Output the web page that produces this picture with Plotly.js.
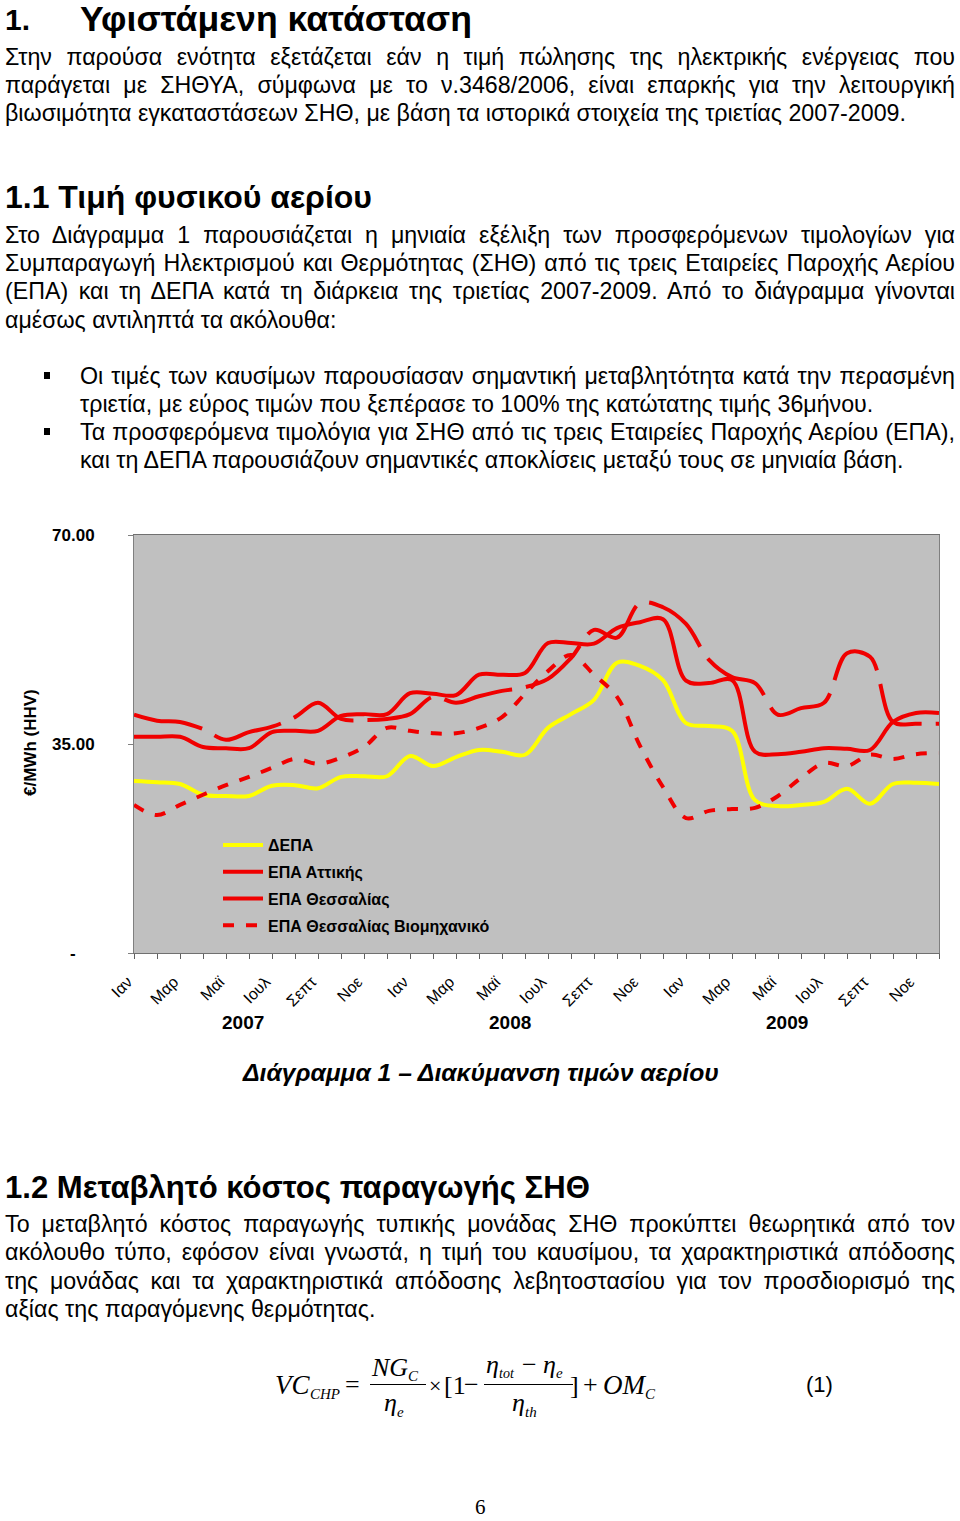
<!DOCTYPE html>
<html>
<head>
<meta charset="utf-8">
<script src="https://cdn.plot.ly/plotly-3.0.1.min.js"></script>
<style>
  html, body { margin:0; padding:0; background:#fff; }
  #page { position:relative; width:960px; height:1521px; overflow:hidden; background:#fff; color:#000; }
  .ln { position:absolute; left:5px; white-space:nowrap; font-family:"Liberation Sans", Arial, sans-serif; font-size:20px; line-height:28px; }
  .hd { position:absolute; white-space:nowrap; font-family:"Liberation Sans", Arial, sans-serif; font-weight:bold; line-height:1; }
  .bul { position:absolute; left:44px; width:6px; height:7px; background:#000; }
  .fm { position:absolute; white-space:nowrap; font-family:"Liberation Serif", "Times New Roman", serif; line-height:1; }
  .it { font-style:italic; }
  .bar { position:absolute; height:1px; background:#000; }
  #chart { position:absolute; left:0; top:505px; width:960px; height:545px; }
</style>
</head>
<body>
<div id="page">
  <div class="hd" style="left:5px; font-size:31px;" data-fitw="25" data-cy="19.5">1.</div>
  <div class="hd" style="left:80px; font-size:31px;" data-fitw="392" data-cy="19.5">Υφιστάμενη κατάσταση</div>

  <div class="ln j" data-cy="57" data-w="950">Στην παρούσα ενότητα εξετάζεται εάν η τιμή πώλησης της ηλεκτρικής ενέργειας που</div>
  <div class="ln j" data-cy="85" data-w="950">παράγεται με ΣΗΘΥΑ, σύμφωνα με το ν.3468/2006, είναι επαρκής για την λειτουργική</div>
  <div class="ln c" data-cy="113" data-w="900">βιωσιμότητα εγκαταστάσεων ΣΗΘ, με βάση τα ιστορικά στοιχεία της τριετίας 2007-2009.</div>

  <div class="hd" style="left:5px; font-size:28px;" data-fitw="367" data-cy="197">1.1 Τιμή φυσικού αερίου</div>

  <div class="ln j" data-cy="235" data-w="950">Στο Διάγραμμα 1 παρουσιάζεται η μηνιαία εξέλιξη των προσφερόμενων τιμολογίων για</div>
  <div class="ln j" data-cy="263" data-w="950">Συμπαραγωγή Ηλεκτρισμού και Θερμότητας (ΣΗΘ) από τις τρεις Εταιρείες Παροχής Αερίου</div>
  <div class="ln j" data-cy="291" data-w="950">(ΕΠΑ) και τη ΔΕΠΑ κατά τη διάρκεια της τριετίας 2007-2009. Από το διάγραμμα γίνονται</div>
  <div class="ln c" data-cy="320" data-w="332">αμέσως αντιληπτά τα ακόλουθα:</div>

  <div class="bul" style="top:372px;"></div>
  <div class="ln j" data-cy="376" data-w="875" style="left:80px;">Οι τιμές των καυσίμων παρουσίασαν σημαντική μεταβλητότητα κατά την περασμένη</div>
  <div class="ln c" data-cy="404" data-w="806" style="left:80px;">τριετία, με εύρος τιμών που ξεπέρασε το 100% της κατώτατης τιμής 36μήνου.</div>
  <div class="bul" style="top:428px;"></div>
  <div class="ln j" data-cy="432" data-w="875" style="left:80px;">Τα προσφερόμενα τιμολόγια για ΣΗΘ από τις τρεις Εταιρείες Παροχής Αερίου (ΕΠΑ),</div>
  <div class="ln c" data-cy="460" data-w="820" style="left:80px;">και τη ΔΕΠΑ παρουσιάζουν σημαντικές αποκλίσεις μεταξύ τους σε μηνιαία βάση.</div>

  <div id="chart"></div>

  <div class="hd" style="left:243px; font-size:22px; font-style:italic;" data-fitw="476" data-cy="1073">Διάγραμμα 1 – Διακύμανση τιμών αερίου</div>

  <div class="hd" style="left:5px; font-size:28px;" data-fitw="585" data-cy="1187">1.2 Μεταβλητό κόστος παραγωγής ΣΗΘ</div>

  <div class="ln j" data-cy="1224" data-w="950">Το μεταβλητό κόστος παραγωγής τυπικής μονάδας ΣΗΘ προκύπτει θεωρητικά από τον</div>
  <div class="ln j" data-cy="1252" data-w="950">ακόλουθο τύπο, εφόσον είναι γνωστά, η τιμή του καυσίμου, τα χαρακτηριστικά απόδοσης</div>
  <div class="ln j" data-cy="1281" data-w="950">της μονάδας και τα χαρακτηριστικά απόδοσης λεβητοστασίου για τον προσδιορισμό της</div>
  <div class="ln c" data-cy="1309" data-w="367">αξίας της παραγόμενης θερμότητας.</div>

  <!-- formula -->
  <div class="fm it" data-x="275" data-b="1395" data-s="27">VC</div>
  <div class="fm it" data-x="310" data-b="1400" data-s="15">CHP</div>
  <div class="fm" data-x="345" data-b="1394" data-s="26">=</div>
  <div class="fm it" data-x="372" data-b="1377" data-s="26">NG</div>
  <div class="fm it" data-x="408" data-b="1382" data-s="15">C</div>
  <div class="bar" style="left:370px; top:1384px; width:56px;"></div>
  <div class="fm it" data-x="384" data-b="1412" data-s="26">η</div>
  <div class="fm it" data-x="397" data-b="1418" data-s="15">e</div>
  <div class="fm" data-x="429" data-b="1393" data-s="22">×</div>
  <div class="fm" data-x="444" data-b="1395" data-s="26">[1</div>
  <div class="fm" data-x="464" data-b="1394" data-s="26">−</div>
  <div class="fm it" data-x="486" data-b="1374" data-s="26">η</div>
  <div class="fm it" data-x="499" data-b="1379" data-s="14">tot</div>
  <div class="fm" data-x="522" data-b="1374" data-s="26">−</div>
  <div class="fm it" data-x="543" data-b="1374" data-s="26">η</div>
  <div class="fm it" data-x="556" data-b="1379" data-s="15">e</div>
  <div class="bar" style="left:484px; top:1384px; width:89px;"></div>
  <div class="fm it" data-x="512" data-b="1412" data-s="26">η</div>
  <div class="fm it" data-x="525" data-b="1418" data-s="15">th</div>
  <div class="fm" data-x="570" data-b="1395" data-s="26">]</div>
  <div class="fm" data-x="583" data-b="1394" data-s="26">+</div>
  <div class="fm it" data-x="603" data-b="1395" data-s="27">OM</div>
  <div class="fm it" data-x="645" data-b="1400" data-s="15">C</div>
  <div class="ln" data-cy="1385" style="left:806px; font-size:22px;">(1)</div>

  <div class="fm" data-x="475" data-b="1515" data-s="21">6</div>
</div>

<script>
// ---------------- DATA ----------------
const tickLabels = ['Ιαν','','Μαρ','','Μαϊ','','Ιουλ','','Σεπτ','','Νοε','',
                    'Ιαν','','Μαρ','','Μαϊ','','Ιουλ','','Σεπτ','','Νοε','',
                    'Ιαν','','Μαρ','','Μαϊ','','Ιουλ','','Σεπτ','','Νοε',''];
const years = ['2007','2008','2009'];
const seriesNames = ['ΔΕΠΑ','ΕΠΑ Αττικής','ΕΠΑ Θεσσαλίας','ΕΠΑ Θεσσαλίας Βιομηχανικό'];

const depa = [28.8,28.6,28.3,26.5,26.3,26.3,28.0,28.1,27.6,29.5,29.6,29.6,
              33.0,31.3,32.8,34.0,33.7,33.2,37.7,40.0,42.4,48.6,48.1,45.7,
              38.5,38.0,37.2,25.6,24.6,24.8,25.3,27.5,25.0,28.3,28.5,28.3];
const epaAttikis = [36.2,36.2,36.2,34.5,34.3,34.3,37.0,37.2,37.2,39.7,40.0,40.0,
                    43.5,43.4,43.2,46.6,46.6,46.9,51.9,51.9,51.8,54.4,55.4,55.9,
                    45.6,45.2,45.7,33.7,33.3,33.7,34.3,34.2,34.0,38.7,40.2,40.2];
const epaThessalias = [39.9,38.9,38.7,37.5,35.7,37.0,37.9,39.5,41.9,39.2,39.0,39.2,
                       40.0,42.9,41.9,43.0,43.9,44.5,45.9,49.4,54.1,52.8,58.6,57.9,
                       55.1,49.1,46.2,45.2,39.9,41.0,41.9,50.2,49.6,38.7,38.4,38.4];
const epaThessBiom = [24.8,23.1,24.8,26.5,28.1,29.5,31.0,32.5,31.7,32.7,34.5,37.7,
                      37.2,36.8,36.8,37.7,39.5,43.4,47.2,49.9,46.6,42.9,34.7,27.8,
                      22.6,23.8,24.1,24.3,26.3,29.3,31.8,31.3,33.2,32.5,33.3,33.5];
const yTickVals = [0, 35, 70];
const yTickText = ['-\u00a0\u00a0\u00a0\u00a0', '35.00', '70.00'];
const yTitle = '€/MWh (HHV)';

// ---------------- CHART ----------------
const xIdx = tickLabels.map((_, i) => i);
const xTickText = tickLabels.map(s => s ? s + '\u00a0\u00a0' : '');
const font = '"Liberation Sans", Arial, sans-serif';
const RED = '#f00000';
function tr(name, y, color, dash) {
  return { x: xIdx, y: y, name: name, type: 'scatter', mode: 'lines', legendgroup: name,
           line: { color: color, width: 4, shape: 'spline', smoothing: 1, dash: dash } };
}
const traces = [
  tr(seriesNames[0], depa, '#ffff00', 'solid'),
  tr(seriesNames[1], epaAttikis, RED, 'solid'),
  tr(seriesNames[2], epaThessalias, RED, '70px,14px'),
  tr(seriesNames[3], epaThessBiom, RED, '11px,12px')
];
const W = 805, H = 418;
const px = v => (v - 134) / W;
const py = v => (953 - v) / H;
const annotations = [
  { text: yTitle, xref: 'paper', yref: 'paper', x: px(30), y: py(743), showarrow: false, textangle: -90,
    font: { family: font, size: 17, color: '#000', weight: 'bold' }, xanchor: 'center', yanchor: 'middle' }
];
const yearX = [243, 510, 787];
years.forEach((yr, i) => annotations.push({
  text: yr, xref: 'paper', yref: 'paper', x: px(yearX[i]), y: py(1022), showarrow: false,
  font: { family: font, size: 19, color: '#000', weight: 'bold' }, xanchor: 'center', yanchor: 'middle'
}));

const layout = {
  width: 960, height: 545,
  margin: { l: 134, r: 21, t: 30, b: 97, pad: 0 },
  paper_bgcolor: 'rgba(0,0,0,0)', plot_bgcolor: '#c0c0c0',
  showlegend: true,
  legend: { x: px(218), y: py(828), xanchor: 'left', yanchor: 'top', bgcolor: 'rgba(0,0,0,0)',
            font: { family: font, size: 16, color: '#000', weight: 'bold' }, tracegroupgap: 3, itemwidth: 40,
            traceorder: 'grouped' },
  xaxis: { range: [0, 35], tickvals: xIdx, ticktext: xTickText, tickangle: -45, ticks: 'outside', ticklen: 5,
           tickcolor: '#606060', showline: true, linecolor: '#707070', linewidth: 1, mirror: true, showgrid: false,
           zeroline: false, ticklabelstandoff: 1, tickfont: { family: font, size: 16, color: '#000' }, fixedrange: true },
  yaxis: { range: [0, 70], tickvals: yTickVals, ticktext: yTickText, ticks: 'outside', ticklen: 5,
           tickcolor: '#808080', showline: true, linecolor: '#808080', linewidth: 1, mirror: true, showgrid: false,
           zeroline: false, ticklabelstandoff: 30,
           tickfont: { family: font, size: 17, color: '#000', weight: 'bold' }, fixedrange: true },
  annotations: annotations
};
Plotly.newPlot('chart', traces, layout, { staticPlot: true, displayModeBar: false });

// ---------------- TEXT LAYOUT ----------------
function layoutText() {
  document.querySelectorAll('.hd[data-fitw]').forEach(el => {
    const target = +el.dataset.fitw;
    const fs = parseFloat(getComputedStyle(el).fontSize);
    const w = el.getBoundingClientRect().width;
    const nfs = fs * target / w;
    el.style.fontSize = nfs.toFixed(2) + 'px';
    el.style.top = (+el.dataset.cy - 0.488 * nfs).toFixed(1) + 'px';
  });
  const cs = Array.from(document.querySelectorAll('.ln.c'));
  const ratios = cs.map(el => (+el.dataset.w) / el.getBoundingClientRect().width);
  const r = ratios.reduce((a, b) => a + b, 0) / ratios.length;
  const bodySize = 20 * r;
  document.querySelectorAll('.ln.j, .ln.c').forEach(el => { el.style.fontSize = bodySize.toFixed(2) + 'px'; });
  document.querySelectorAll('.ln').forEach(el => {
    if (el.dataset.cy) el.style.top = (+el.dataset.cy - 14) + 'px';
  });
  document.querySelectorAll('.ln.j').forEach(el => {
    const target = +el.dataset.w;
    const w = el.getBoundingClientRect().width;
    const spaces = (el.textContent.match(/ /g) || []).length;
    if (spaces) el.style.wordSpacing = ((target - w) / spaces).toFixed(3) + 'px';
  });
  document.querySelectorAll('.fm').forEach(el => {
    const s = +el.dataset.s;
    el.style.fontSize = s + 'px';
    el.style.left = el.dataset.x + 'px';
    el.style.top = (+el.dataset.b - 0.8375 * s) + 'px';
  });
}
if (document.fonts && document.fonts.ready) { document.fonts.ready.then(layoutText); } else { layoutText(); }
</script>
</body>
</html>
